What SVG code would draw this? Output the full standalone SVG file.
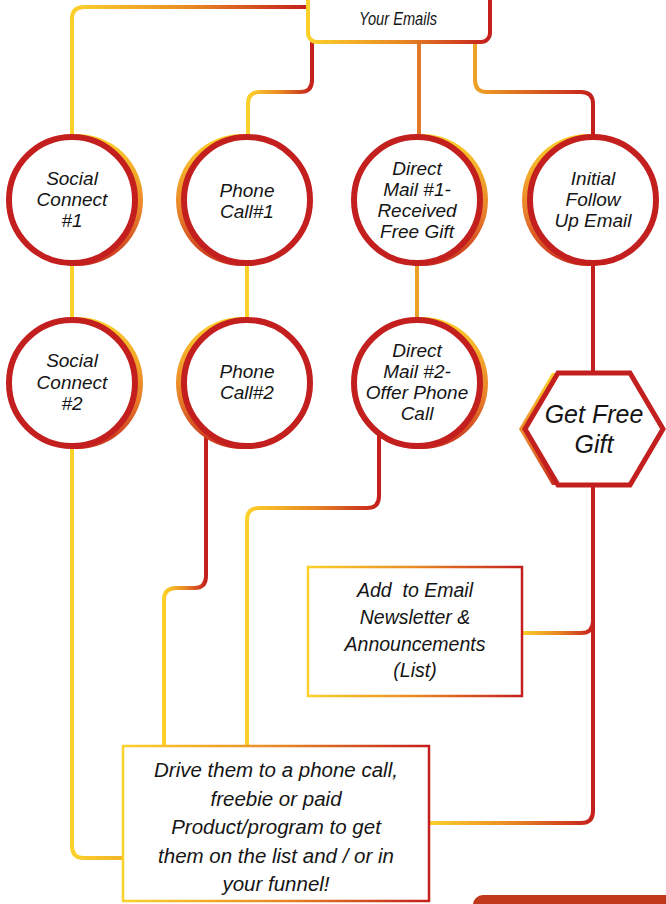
<svg xmlns="http://www.w3.org/2000/svg" width="666" height="904" viewBox="0 0 666 904">
<style>
.t{font-family:"Liberation Sans",Arial,sans-serif;font-style:italic;fill:#151515;text-anchor:middle;white-space:pre}
.c{font-size:19px}
.ring{fill:#fff;stroke:#c41f1f;stroke-width:6}
.con{fill:none;stroke-width:4;stroke-linecap:butt}
.box{fill:#fff;stroke-width:2.5}
</style>
<defs>
<linearGradient id="gH" x1="0" y1="0" x2="1" y2="0"><stop offset="0" stop-color="#fcd12a"/><stop offset="0.5" stop-color="#e88a24"/><stop offset="1" stop-color="#c41f1c"/></linearGradient>
<linearGradient id="gO" x1="0" y1="0" x2="1" y2="0"><stop offset="0" stop-color="#eea226"/><stop offset="1" stop-color="#c41f1c"/></linearGradient>
<linearGradient id="gY" x1="0" y1="0" x2="1" y2="0"><stop offset="0" stop-color="#fcd12a"/><stop offset="1" stop-color="#f2b42a"/></linearGradient>
<linearGradient id="sh" x1="0" y1="0" x2="0" y2="1"><stop offset="0" stop-color="#fcd12a"/><stop offset="0.6" stop-color="#e8802a"/><stop offset="1" stop-color="#c8301e"/></linearGradient>
</defs>

<g id="connectors">
<path class="con" stroke="url(#gH)" d="M308,7 H84 Q72,7 72,19 V138"/>
<path class="con" stroke="url(#gH)" d="M312,42 V80 Q312,92 300,92 H260 Q248,92 248,104 V138"/>
<path class="con" stroke="#e2792a" d="M419,42 V138"/>
<path class="con" stroke="url(#gO)" d="M475,42 V80 Q475,92 487,92 H581 Q593,92 593,104 V138"/>
<path class="con" stroke="#fcd12a" d="M72,264 V320"/>
<path class="con" stroke="#fcd12a" d="M247,264 V320"/>
<path class="con" stroke="#eaa027" d="M417,264 V320"/>
<path class="con" stroke="#c41f1c" d="M593,264 V372"/>
<path class="con" stroke="url(#gY)" d="M72,446 V846 Q72,858 84,858 H123"/>
<path class="con" stroke="url(#gH)" d="M206,431 V576 Q206,588 194,588 H176 Q164,588 164,600 V746"/>
<path class="con" stroke="url(#gH)" d="M379,433 V496 Q379,508 367,508 H259 Q247,508 247,520 V746"/>
<path class="con" stroke="url(#gH)" d="M593,486 V811 Q593,823 581,823 H429"/>
<path class="con" stroke="url(#gH)" d="M522,633 H581 Q593,633 593,621"/>
</g>

<g id="top-box">
<rect x="308" y="-20" width="182" height="62" rx="9" fill="#fff" stroke="url(#gH)" stroke-width="4"/>
<text class="t" x="398" y="25" font-size="18" textLength="78" lengthAdjust="spacingAndGlyphs">Your Emails</text>
</g>

<g id="social-connect-1">
<circle cx="77" cy="200" r="66" fill="url(#sh)"/>
<circle class="ring" cx="72" cy="200" r="63"/>
<text class="t c" x="72" y="185">Social</text>
<text class="t c" x="72" y="206">Connect</text>
<text class="t c" x="72" y="227">#1</text>
</g>
<g id="phone-call-1">
<circle cx="242" cy="200" r="66" fill="url(#sh)"/>
<circle class="ring" cx="247" cy="200" r="63"/>
<text class="t c" x="247" y="197">Phone</text>
<text class="t c" x="247" y="218">Call#1</text>
</g>
<g id="direct-mail-1">
<circle cx="422" cy="200" r="66" fill="url(#sh)"/>
<circle class="ring" cx="417" cy="200" r="63"/>
<text class="t c" x="417" y="175">Direct</text>
<text class="t c" x="417" y="196">Mail #1-</text>
<text class="t c" x="417" y="217">Received</text>
<text class="t c" x="417" y="238">Free Gift</text>
</g>
<g id="initial-follow-up">
<circle cx="588" cy="200" r="66" fill="url(#sh)"/>
<circle class="ring" cx="593" cy="200" r="63"/>
<text class="t c" x="593" y="185">Initial</text>
<text class="t c" x="593" y="206">Follow</text>
<text class="t c" x="593" y="227">Up Email</text>
</g>
<g id="social-connect-2">
<circle cx="77" cy="383" r="66" fill="url(#sh)"/>
<circle class="ring" cx="72" cy="383" r="63"/>
<text class="t c" x="72" y="367">Social</text>
<text class="t c" x="72" y="389">Connect</text>
<text class="t c" x="72" y="410">#2</text>
</g>
<g id="phone-call-2">
<circle cx="242" cy="383" r="66" fill="url(#sh)"/>
<circle class="ring" cx="247" cy="383" r="63"/>
<text class="t c" x="247" y="378">Phone</text>
<text class="t c" x="247" y="399">Call#2</text>
</g>
<g id="direct-mail-2">
<circle cx="422" cy="383" r="66" fill="url(#sh)"/>
<circle class="ring" cx="417" cy="383" r="63"/>
<text class="t c" x="417" y="357">Direct</text>
<text class="t c" x="417" y="378">Mail #2-</text>
<text class="t c" x="417" y="399">Offer Phone</text>
<text class="t c" x="417" y="420">Call</text>
</g>
<g id="get-free-gift">
<polygon points="552,373 624,373 657,429 624,485 552,485 519,429" fill="url(#sh)"/>
<polygon points="558,373 630,373 663,429 630,485 558,485 525,429" fill="#fff" stroke="#c41f1f" stroke-width="5" stroke-linejoin="miter"/>
<text class="t" x="594" y="423" font-size="25">Get Free</text>
<text class="t" x="594" y="453" font-size="25">Gift</text>
</g>
<g id="add-to-email">
<rect class="box" x="308" y="567" width="214" height="129" stroke="url(#gH)"/>
<text class="t" x="415" y="597" font-size="19.5">Add  to Email</text>
<text class="t" x="415" y="624" font-size="19.5">Newsletter &amp;</text>
<text class="t" x="415" y="651" font-size="19.5">Announcements</text>
<text class="t" x="415" y="677" font-size="19.5">(List)</text>
</g>
<g id="drive-them">
<rect class="box" x="123" y="746" width="306" height="155" stroke="url(#gH)"/>
<text class="t" x="276" y="777" font-size="20.5">Drive them to a phone call,</text>
<text class="t" x="276" y="805.5" font-size="20.5">freebie or paid</text>
<text class="t" x="276" y="834" font-size="20.5">Product/program to get</text>
<text class="t" x="276" y="862.5" font-size="20.5">them on the list and / or in</text>
<text class="t" x="276" y="891" font-size="20.5">your funnel!</text>
</g>
<g id="corner-tab">
<rect x="473" y="895" width="210" height="30" rx="10" fill="#c0381b"/>
</g>
</svg>
